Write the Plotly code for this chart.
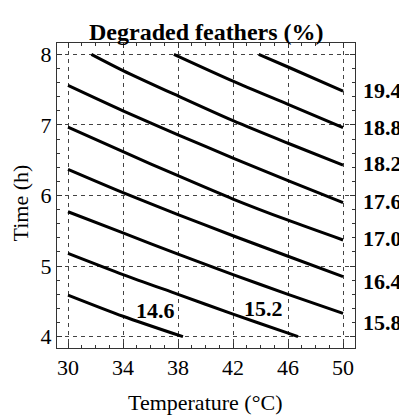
import plotly.graph_objects as go

# Contour levels (Degraded feathers %)
levels = ["14.6", "15.2", "15.8", "16.4", "17.0", "17.6", "18.2", "18.8", "19.4"]

# Contour line points: temperature (°C) and time (h)
temp_146 = [30, 34, 38.36]
time_146 = [4.59, 4.29, 4.0]
temp_152 = [30, 34, 38, 42, 46, 46.73]
time_152 = [5.18, 4.88, 4.60, 4.32, 4.05, 4.0]
temp_158 = [30, 34, 38, 42, 46, 50]
time_158 = [5.77, 5.47, 5.17, 4.88, 4.60, 4.33]
temp_164 = [30, 34, 38, 42, 46, 50]
time_164 = [6.37, 6.04, 5.73, 5.43, 5.14, 4.85]
temp_170 = [30, 34, 38, 42, 46, 50]
time_170 = [6.97, 6.62, 6.28, 5.95, 5.65, 5.37]
temp_176 = [30, 34, 38, 42, 46, 50]
time_176 = [7.56, 7.20, 6.86, 6.53, 6.21, 5.90]
temp_182 = [31.7, 34, 38, 42, 46, 50]
time_182 = [8.0, 7.77, 7.41, 7.06, 6.74, 6.43]
temp_188 = [37.7, 42, 46, 50]
time_188 = [8.0, 7.62, 7.29, 6.96]
temp_194 = [43.87, 46, 50]
time_194 = [8.0, 7.82, 7.48]

# Label positions
inline_labels = ["14.6", "15.2"]
inline_x = [36.33, 44.21]
inline_y = [4.37, 4.40]
right_labels = ["19.4", "18.8", "18.2", "17.6", "17.0", "16.4", "15.8"]
right_y = [7.49, 6.96, 6.45, 5.91, 5.39, 4.78, 4.20]

x_ticks = [30, 34, 38, 42, 46, 50]
y_ticks = [4, 5, 6, 7, 8]

FONT = "Liberation Serif"

lines = [
    (temp_146, time_146), (temp_152, time_152), (temp_158, time_158),
    (temp_164, time_164), (temp_170, time_170), (temp_176, time_176),
    (temp_182, time_182), (temp_188, time_188), (temp_194, time_194),
]

fig = go.Figure()
for lvl, (xs, ys) in zip(levels, lines):
    fig.add_trace(go.Scatter(
        x=xs, y=ys, mode="lines", name=lvl,
        line=dict(color="black", width=3, shape="spline", smoothing=0.8),
        hoverinfo="x+y+name", showlegend=False,
    ))

for t, x, y in zip(inline_labels, inline_x, inline_y):
    fig.add_annotation(x=x, y=y, xref="x", yref="y", text=t, showarrow=False,
                       font=dict(family=FONT, size=22, color="black", weight="bold"),
                       xanchor="center", yanchor="middle")

for t, y in zip(right_labels, right_y):
    fig.add_annotation(x=1, y=y, xref="paper", yref="y", text=t, showarrow=False,
                       xshift=6, xanchor="left", yanchor="middle",
                       font=dict(family=FONT, size=22, color="black", weight="bold"))

# Title and axis titles
fig.add_annotation(x=0.5, y=1.037, xref="paper", yref="paper", text="Degraded feathers (%)",
                   showarrow=False, xanchor="center", yanchor="middle",
                   font=dict(family=FONT, size=24, color="black", weight="bold"))
fig.add_annotation(x=0.497, y=-0.180, xref="paper", yref="paper", text="Temperature (°C)",
                   showarrow=False, xanchor="center", yanchor="middle",
                   font=dict(family=FONT, size=22, color="black"))
fig.add_annotation(x=-0.124, y=0.474, xref="paper", yref="paper", text="Time (h)",
                   showarrow=False, xanchor="center", yanchor="middle", textangle=-90,
                   font=dict(family=FONT, size=22, color="black"))

axis_common = dict(
    showline=True, linecolor="#333", linewidth=1, mirror="allticks",
    ticks="inside", ticklen=5, tickcolor="#333", tickwidth=1,
    showgrid=True, gridcolor="#444", gridwidth=1, griddash="4px,4px",
    zeroline=False,
    tickfont=dict(family=FONT, size=22, color="black"),
)

fig.update_xaxes(range=[29.2, 50.87], tickvals=x_ticks,
                 minor=dict(dtick=1, ticks="inside", ticklen=3, tickcolor="#333", showgrid=False),
                 **axis_common)
fig.update_yaxes(range=[3.84, 8.16], tickvals=y_ticks,
                 minor=dict(dtick=0.2, ticks="inside", ticklen=3, tickcolor="#333", showgrid=False),
                 **axis_common)

# The page body adds an 8 px offset; size the figure so the plot area lands where the reference has it.
fig.update_layout(
    width=399, height=408,
    margin=dict(l=49, r=52, t=35, b=68, autoexpand=False),
    plot_bgcolor="white", paper_bgcolor="white",
    font=dict(family=FONT, color="black"),
)

fig.write_html("out.html")
